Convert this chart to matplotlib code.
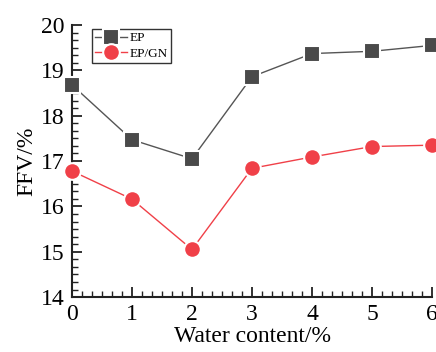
import matplotlib
matplotlib.use("Agg")
import matplotlib.pyplot as plt
from matplotlib.ticker import AutoMinorLocator, MultipleLocator

water = [0, 1, 2, 3, 4, 5, 6]
ep = [18.68, 17.47, 17.05, 18.86, 19.37, 19.42, 19.55]
ep_gn = [16.78, 16.16, 15.05, 16.84, 17.09, 17.32, 17.35]

plt.rcParams['font.family'] = ['Liberation Serif', 'DejaVu Serif']

fig = plt.figure(figsize=(4.36, 3.52), dpi=100)
ax = fig.add_axes([0.165, 0.156, 0.826, 0.773])

ax.plot(water, ep, color='#555555', lw=1.0, marker='s', ms=11,
        mfc='#4a4a4a', mec='white', mew=1.5, label='EP', clip_on=False, zorder=3)
ax.plot(water, ep_gn, color='#f04048', lw=1.0, marker='o', ms=12,
        mfc='#f04048', mec='white', mew=1.5, label='EP/GN', clip_on=False, zorder=3)

ax.set_xlim(0, 6)
ax.set_ylim(14, 20)
ax.xaxis.set_major_locator(MultipleLocator(1))
ax.yaxis.set_major_locator(MultipleLocator(1))
ax.xaxis.set_minor_locator(AutoMinorLocator(6))
ax.yaxis.set_minor_locator(AutoMinorLocator(6))

for s in ['top', 'right']:
    ax.spines[s].set_visible(False)
for s in ['left', 'bottom']:
    ax.spines[s].set_linewidth(1.5)
    ax.spines[s].set_color('#222222')

ax.tick_params(which='major', direction='in', length=7, width=1.3, labelsize=17, pad=5, color='#222222')
ax.tick_params(which='minor', direction='in', length=4, width=1.0, color='#222222')

ax.set_xlabel('Water content/%', fontsize=17, labelpad=1)
ax.set_ylabel('FFV/%', fontsize=17, labelpad=3)

leg = ax.legend(loc='upper left', bbox_to_anchor=(0.045, 1.0), fontsize=9.5,
                frameon=True, fancybox=False, edgecolor='black',
                handlelength=2.4, handletextpad=0.2, borderpad=0.25, labelspacing=0.25,
                borderaxespad=0.3)
leg.get_frame().set_linewidth(1.0)

fig.savefig('out.png', dpi=100)
